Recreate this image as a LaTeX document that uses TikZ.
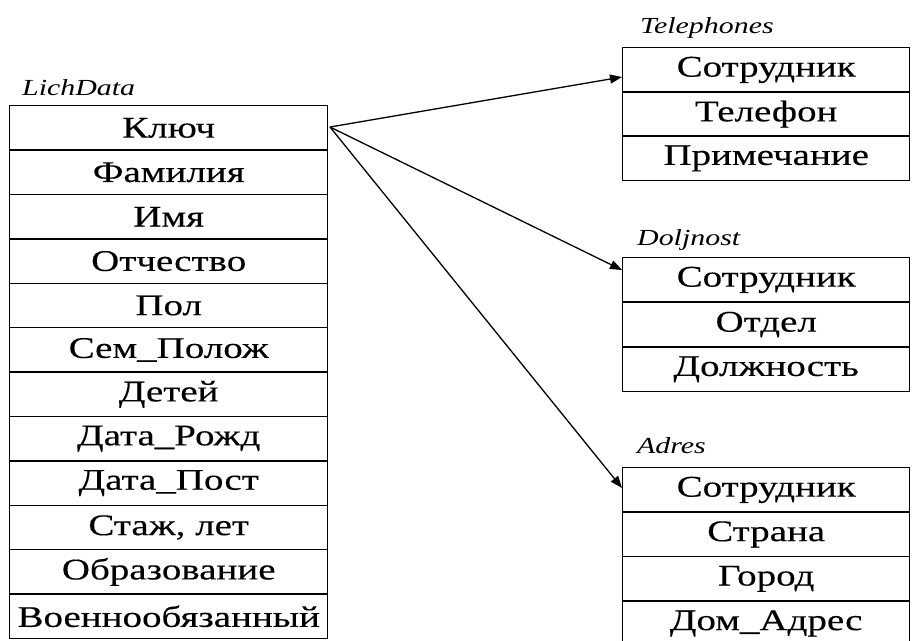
\documentclass[tikz,border=0pt]{standalone}
\usepackage{fontspec}
\setmainfont{Liberation Serif}
\newfontfamily\cellfont[FakeStretch=1.3,FakeBold=0.3]{Liberation Serif}
\newfontfamily\labfont[FakeStretch=1.3]{Liberation Serif Italic}
\usetikzlibrary{arrows.meta}
\begin{document}
\begin{tikzpicture}[x=1pt,y=-1pt,
  cell/.style={draw,line width=1.4pt,minimum width=#1,minimum height=44.4pt,inner sep=0pt,anchor=north west,font=\cellfont\fontsize{30}{30}\selectfont},
  cell/.default=318pt,
  tlabel/.style={anchor=base west,inner sep=0pt,font=\labfont\fontsize{23}{23}\selectfont},
  link/.style={line width=1.3pt,-{Triangle[length=12pt,width=9pt]}}]
\useasboundingbox (0,0) rectangle (913,640);
\clip (0,0) rectangle (913,640);
% LichData
\node[tlabel] (lbl1) at (22,95) {LichData};
\foreach \t [count=\i from 0] in {Ключ,Фамилия,Имя,Отчество,Пол,Сем\_Полож,Детей,Дата\_Рожд,Дата\_Пост,{Стаж, лет},Образование,Военнообязанный}{
  \node[cell] (L\i) at (9,105+44.4*\i) {\raisebox{-2pt}{\t}};
}
% Telephones
\node[tlabel] (lbl2) at (640,33) {Telephones};
\foreach \t [count=\i from 0] in {Сотрудник,Телефон,Примечание}{
  \node[cell=287pt] (T\i) at (622,47+44.2*\i) {\raisebox{-2pt}{\t}};
}
% Doljnost
\node[tlabel] (lbl3) at (637,245) {Doljnost};
\foreach \t [count=\i from 0] in {Сотрудник,Отдел,Должность}{
  \node[cell=287pt] (D\i) at (622,257+44.7*\i) {\raisebox{-2pt}{\t}};
}
% Adres
\node[tlabel] (lbl4) at (637,453) {Adres};
\foreach \t [count=\i from 0] in {Сотрудник,Страна,Город,Дом\_Адрес}{
  \node[cell=287pt] (A\i) at (622,467+44.5*\i) {\raisebox{-2pt}{\t}};
}
\coordinate (src) at (330,127);
\draw[link] (src) -- ([yshift=-30pt]T0.north west);
\draw[link] (src) -- ([yshift=-13pt]D0.north west);
\draw[link] (src) -- ([yshift=-21pt]A0.north west);
\end{tikzpicture}
\end{document}
